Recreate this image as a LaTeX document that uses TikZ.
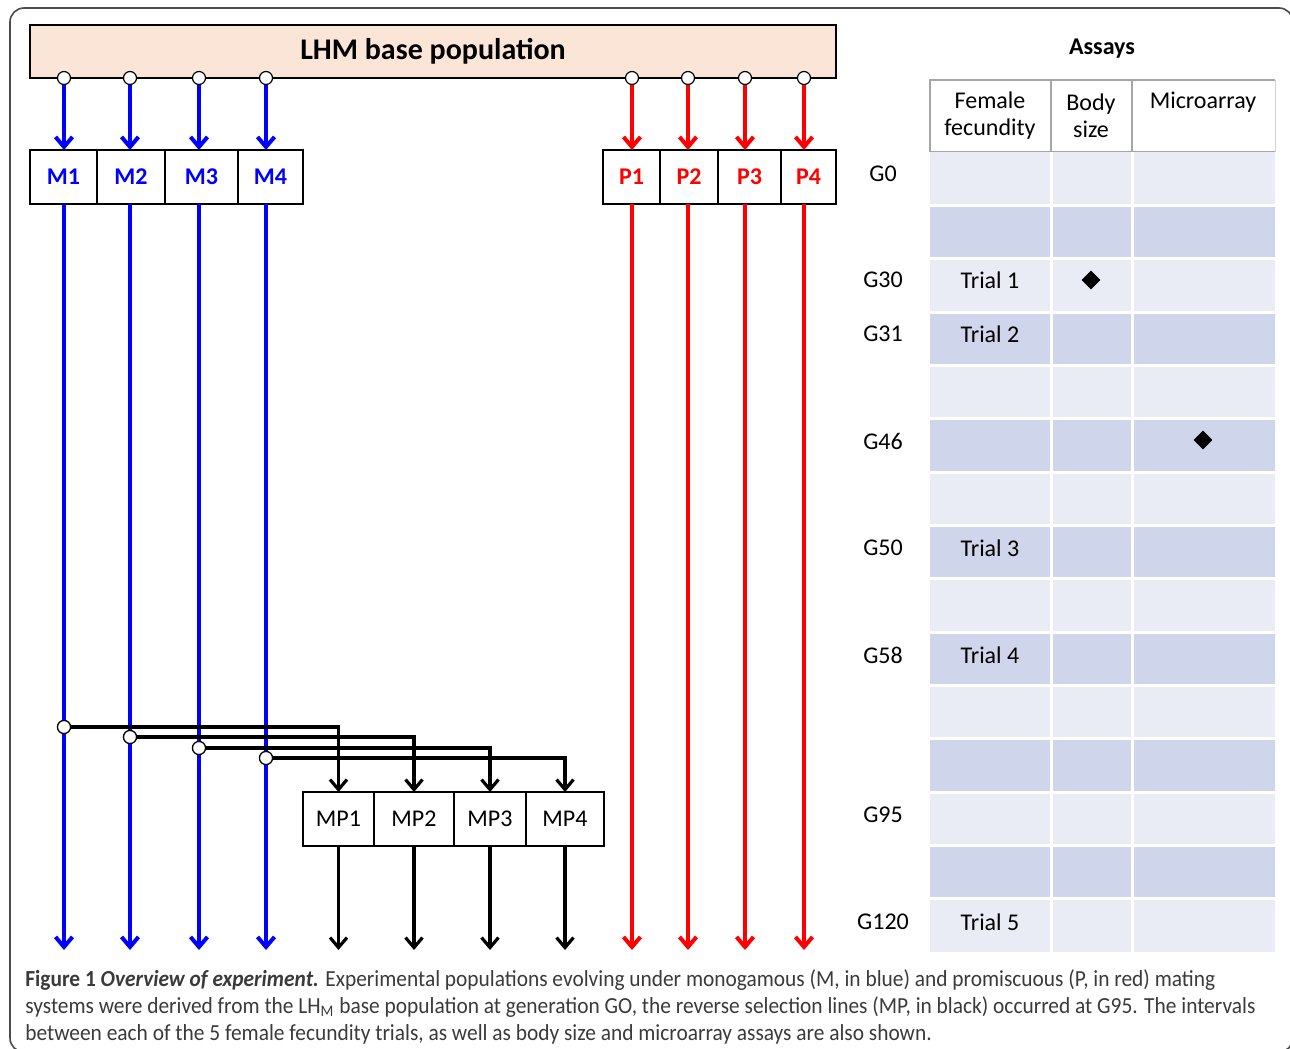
\documentclass[tikz,border=0pt]{standalone}
\usepackage{fontspec}
\setmainfont{Carlito}
\newfontfamily\capfont[FakeStretch=0.93]{Carlito}
\usepackage{tikz}
\usetikzlibrary{arrows.meta,positioning,shapes.geometric}
\definecolor{peach}{HTML}{FBE5D6}
\definecolor{rowlight}{HTML}{E9EBF5}
\definecolor{rowdark}{HTML}{CFD5EA}
\definecolor{hdrgray}{HTML}{A6A6A6}
\definecolor{capgray}{HTML}{3A3A3A}

\begin{document}
\begin{tikzpicture}[x=0.5pt,y=-0.5pt,
 basebox/.style={rectangle,draw,line width=1pt,fill=peach,outer sep=0pt,
             minimum width=403pt,minimum height=26.5pt,
             font=\fontsize{15}{18}\selectfont\bfseries},
 linebox/.style={rectangle,draw,line width=1pt,inner sep=0pt,outer sep=0pt,
             minimum height=27pt,font=\fontsize{12}{14}\selectfont},
 mbox/.style={linebox,text=blue,font=\fontsize{12}{14}\selectfont\bfseries},
 pbox/.style={linebox,text=red,font=\fontsize{12}{14}\selectfont\bfseries},
 joint/.style={circle,draw,fill=white,line width=0.6pt,inner sep=0pt,minimum size=6.5pt},
 mline/.style={-{Straight Barb[length=5pt,width=8.5pt]},line width=2pt,draw=blue},
 pline/.style={mline,draw=red},
 kline/.style={-{Straight Barb[length=5pt,width=8.5pt]},line width=1.6pt,draw=black},
 hdr/.style={draw=hdrgray,line width=1pt},
 lbl/.style={font=\fontsize{12}{13.5}\selectfont,align=center},
 assaymark/.style={diamond,fill=black,inner sep=0pt,minimum size=9.5pt},
 caption/.style={anchor=base west,inner sep=0pt,text=capgray,
             font=\capfont\fontsize{11.5}{13.5}\selectfont}
]
\useasboundingbox (0,0) rectangle (1290,1049);
\draw[black!70,line width=0.8pt,rounded corners=7pt] (10,8) rectangle (1293,1052);

% base population and lines
\node[basebox,anchor=north west] (lhm) at (30,25) {LHM base population};
\node[mbox,minimum width=33.5pt,anchor=north west] (M1) at (30,150) {M1};
\node[mbox,minimum width=34pt,right=0pt of M1] (M2) {M2};
\node[mbox,minimum width=36.5pt,right=0pt of M2] (M3) {M3};
\node[mbox,minimum width=32.5pt,right=0pt of M3] (M4) {M4};
\node[pbox,minimum width=28.5pt,anchor=north west] (P1) at (603,150) {P1};
\node[pbox,minimum width=29pt,right=0pt of P1] (P2) {P2};
\node[pbox,minimum width=31.5pt,right=0pt of P2] (P3) {P3};
\node[pbox,minimum width=27.5pt,right=0pt of P3] (P4) {P4};
\node[linebox,minimum width=35.5pt,anchor=north west] (MP1) at (303,792) {MP1};
\node[linebox,minimum width=40pt,right=0pt of MP1] (MP2) {MP2};
\node[linebox,minimum width=36pt,right=0pt of MP2] (MP3) {MP3};
\node[linebox,minimum width=39pt,right=0pt of MP3] (MP4) {MP4};
\coordinate (bot) at (0,950);

\node[joint] (c1) at (64,78) {};
\node[joint] (c2) at (130,78) {};
\node[joint] (c3) at (199,78) {};
\node[joint] (c4) at (266,78) {};
\node[joint] (c5) at (632,78) {};
\node[joint] (c6) at (688,78) {};
\node[joint] (c7) at (745,78) {};
\node[joint] (c8) at (804,78) {};

\draw[mline] (c1) -- (c1 |- M1.north);
\draw[mline] (c2) -- (c2 |- M2.north);
\draw[mline] (c3) -- (c3 |- M3.north);
\draw[mline] (c4) -- (c4 |- M4.north);
\draw[pline] (c5) -- (c5 |- P1.north);
\draw[pline] (c6) -- (c6 |- P2.north);
\draw[pline] (c7) -- (c7 |- P3.north);
\draw[pline] (c8) -- (c8 |- P4.north);
\draw[mline] (c1 |- M1.south) -- (c1 |- bot);
\draw[mline] (c2 |- M2.south) -- (c2 |- bot);
\draw[mline] (c3 |- M3.south) -- (c3 |- bot);
\draw[mline] (c4 |- M4.south) -- (c4 |- bot);
\draw[pline] (c5 |- P1.south) -- (c5 |- bot);
\draw[pline] (c6 |- P2.south) -- (c6 |- bot);
\draw[pline] (c7 |- P3.south) -- (c7 |- bot);
\draw[pline] (c8 |- P4.south) -- (c8 |- bot);

% reverse selection at G95
\node[joint] (j1) at (64,727) {};
\node[joint] (j2) at (130,737) {};
\node[joint] (j3) at (199,748) {};
\node[joint] (j4) at (266,758) {};
\draw[kline] (j1) -| (MP1.north);
\draw[kline] (j2) -| (MP2.north);
\draw[kline] (j3) -| (MP3.north);
\draw[kline] (j4) -| (MP4.north);
\node[joint] at (j1) {};
\node[joint] at (j2) {};
\node[joint] at (j3) {};
\node[joint] at (j4) {};
\draw[kline] (MP1.south) -- (MP1.south |- bot);
\draw[kline] (MP2.south) -- (MP2.south |- bot);
\draw[kline] (MP3.south) -- (MP3.south |- bot);
\draw[kline] (MP4.south) -- (MP4.south |- bot);

% assay table
\node[font=\fontsize{12}{14}\selectfont\bfseries] (assays) at (1102,49) {Assays};
\draw[hdr] (930,152) -- (930,80) -- (1275,80);
\draw[hdr,line width=0.7pt] (1051,80) -- (1051,152) (1132,80) -- (1132,152)
  (930,152) -- (1275,152);
\draw[hdr,line width=0.4pt,draw=hdrgray!50] (1275,80) -- (1275,152);
\node[lbl] (hfec) at (990,116) {Female\\fecundity};
\node[lbl] (hbody) at (1091,116) {Body\\size};
\node[lbl] (hmicro) at (1203,102) {Microarray};
\fill[rowlight] (930,152) rectangle (1275,952);
\fill[rowdark] (930,205.3) rectangle (1275,258.7) (930,312) rectangle (1275,365.3)
  (930,418.7) rectangle (1275,472) (930,525.3) rectangle (1275,578.7)
  (930,632) rectangle (1275,685.3) (930,738.7) rectangle (1275,792)
  (930,845.3) rectangle (1275,898.7);
\draw[white,line width=1.5pt] (1051,152) -- (1051,952) (1132,152) -- (1132,952)
  (930,205.3) -- (1275,205.3) (930,258.7) -- (1275,258.7) (930,312) -- (1275,312)
  (930,365.3) -- (1275,365.3) (930,418.7) -- (1275,418.7) (930,472) -- (1275,472)
  (930,525.3) -- (1275,525.3) (930,578.7) -- (1275,578.7) (930,632) -- (1275,632)
  (930,685.3) -- (1275,685.3) (930,738.7) -- (1275,738.7) (930,792) -- (1275,792)
  (930,845.3) -- (1275,845.3) (930,898.7) -- (1275,898.7);
\node[lbl] (g0) at (883,174) {G0};
\node[lbl] (g30) at (883,280) {G30};
\node[lbl] (g31) at (883,334) {G31};
\node[lbl] (g46) at (883,441) {G46};
\node[lbl] (g50) at (883,548) {G50};
\node[lbl] (g58) at (883,655) {G58};
\node[lbl] (g95) at (883,815) {G95};
\node[lbl] (g120) at (883,922) {G120};
\node[lbl] (t1) at (990,280) {Trial 1};
\node[lbl] (t2) at (990,334) {Trial 2};
\node[lbl] (t3) at (990,548) {Trial 3};
\node[lbl] (t4) at (990,655) {Trial 4};
\node[lbl] (t5) at (990,922) {Trial 5};
\node[assaymark] (body30) at (1091,280) {};
\node[assaymark] (micro46) at (1203,440) {};

% caption
\node[caption] (cap1) at (25,986) {\textbf{Figure 1} \textbf{\textit{Overview of experiment.}} Experimental populations evolving under monogamous (M, in blue) and promiscuous (P, in red) mating};
\node[caption] (cap2) at (25,1013) {systems were derived from the LH\textsubscript{M} base population at generation GO, the reverse selection lines (MP, in black) occurred at G95. The intervals};
\node[caption] (cap3) at (25,1040) {between each of the 5 female fecundity trials, as well as body size and microarray assays are also shown.};
\end{tikzpicture}
\end{document}
